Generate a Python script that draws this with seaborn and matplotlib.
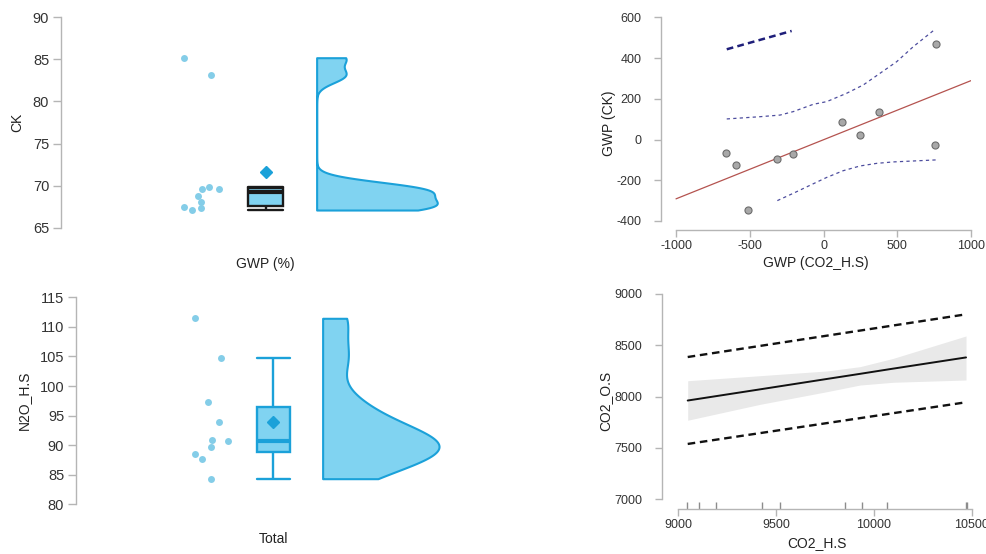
import numpy as np
import matplotlib
matplotlib.use("Agg")
import matplotlib.pyplot as plt
import matplotlib.transforms as mtransforms
import seaborn as sns

# ---------------- data ----------------
ck_values = [85.2, 83.1, 68.8, 69.8, 69.6, 69.6, 67.3, 67.5, 67.1, 68.0]
ck_ticks = [65, 70, 75, 80, 85, 90]
n2o_values = [111.45, 104.7, 97.25, 93.86, 90.7, 90.87, 89.75, 88.45, 87.66, 84.33]
n2o_ticks = [80, 85, 90, 95, 100, 105, 110, 115]

gwp_co2_hs = [-658.7, -595.5, -514.0, -313.0, -204.5, 127.7, 247.5, 374.0, 753.8, 762.8]
gwp_ck = [-64.5, -126.7, -344.4, -95.6, -71.0, 87.7, 22.2, 135.2, -26.9, 467.4]
upper_band_x = [-656, -430, -295, -205, -69, 22, 157, 270, 383, 496, 609, 756]
upper_band_y = [101, 112, 120, 137, 173, 186, 227, 268, 325, 382, 456, 541]
lower_band_x = [-313, -205, -92, 22, 134, 247, 361, 473, 767]
lower_band_y = [-300, -264, -225, -186, -153, -130, -117, -110, -100]
navy_x = [-656, -216]
navy_y = [443, 533]
gwp_xticks = [-1000, -500, 0, 500, 1000]
gwp_yticks = [-400, -200, 0, 200, 400, 600]

co2_hs_rug = [9046, 9107, 9193, 9426, 9520, 9851, 9939, 10069, 10471, 10478]
band_x = [9048, 9418, 9759, 9929, 10099, 10471]
fit_y = [7962, 8071, 8172, 8222, 8273, 8382]
ci_upper = [8155, 8204, 8250, 8292, 8373, 8591]
ci_lower = [7770, 7925, 8048, 8113, 8140, 8162]
pi_x = [9048, 10471]
pi_upper = [8386, 8802]
pi_lower = [7539, 7945]
co2_xticks = [9000, 9500, 10000, 10500]
co2_yticks = [7000, 7500, 8000, 8500, 9000]

# ---------------- style ----------------
sns.set_style("white")
plt.rcParams["font.family"] = ["Liberation Sans", "DejaVu Sans"]
plt.rcParams["axes.unicode_minus"] = False

W, H = 987, 554
fig = plt.figure(figsize=(W / 100, H / 100), dpi=100)


def rect(l, t, r, b):
    return [l / W, 1 - b / H, (r - l) / W, (b - t) / H]


SPINE = "#b5b5b5"
TXT = "#333333"
LAB = "#222222"
BLUE_FILL = "#80d3f1"
BLUE_EDGE = "#1ba1d9"
RAIN = "#84cde8"


def raincloud(ax, values, ticks, ylabel, xlabel, box_edge, ylab_x, xlab_y):
    vals = np.asarray(values, float)
    sns.boxplot(y=vals, ax=ax, width=0.167, showfliers=False, showmeans=True,
                color=BLUE_FILL, saturation=1, linecolor=box_edge, linewidth=1.7,
                medianprops=dict(color=box_edge, linewidth=3.0),
                meanprops=dict(marker="D", markerfacecolor=BLUE_EDGE,
                               markeredgecolor=BLUE_EDGE, markersize=6),
                capwidths=0.167)
    ax.set_xlim(-1, 1)
    ax.set_ylim(ticks[0], ticks[-1])
    blend = mtransforms.blended_transform_factory(ax.transData, ax.transAxes)

    # rain
    rax = ax.inset_axes([-0.43, 0, 0.225, 1], transform=blend)
    np.random.seed(7)
    sns.stripplot(y=vals, ax=rax, jitter=0.42, color=RAIN, size=5, linewidth=0)
    rax.set_xlim(-0.5, 0.5)
    rax.set_ylim(ticks[0], ticks[-1])
    rax.set_xlabel("")
    rax.set_ylabel("")
    rax.axis("off")

    # cloud (half violin)
    vax = ax.inset_axes([0.25, 0, 0.59, 1], transform=blend)
    sd = vals.std(ddof=1)
    q75, q25 = np.percentile(vals, [75, 25])
    bw = 0.9 * min(sd, (q75 - q25) / 1.34) * len(vals) ** -0.2
    sns.kdeplot(y=vals, ax=vax, fill=True, cut=0, bw_method=bw / sd,
                color=BLUE_EDGE, alpha=1, linewidth=1.5)
    poly = vax.collections[0]
    poly.set_facecolor(BLUE_FILL)
    poly.set_edgecolor(BLUE_EDGE)
    poly.set_clip_on(False)
    xmax = poly.get_paths()[0].vertices[:, 0].max()
    vax.set_xlim(0, xmax)
    vax.set_ylim(ticks[0], ticks[-1])
    vax.set_xlabel("")
    vax.set_ylabel("")
    vax.axis("off")

    ax.set_yticks(ticks)
    ax.set_xticks([])
    for s in ["top", "right", "bottom"]:
        ax.spines[s].set_visible(False)
    ax.spines["left"].set_color(SPINE)
    ax.spines["left"].set_linewidth(1)
    ax.tick_params(axis="y", left=True, colors=SPINE, labelcolor=TXT,
                   length=6, width=1, labelsize=10.5, pad=2.5)
    ax.set_ylabel(ylabel, fontsize=10, color=LAB)
    ax.set_xlabel(xlabel, fontsize=10, color=LAB)
    ax.yaxis.set_label_coords(ylab_x, 0.5)
    ax.xaxis.set_label_coords(0.5, xlab_y)


ax1 = fig.add_axes(rect(61, 17.3, 470, 227.7))
raincloud(ax1, ck_values, ck_ticks, "CK", "GWP (%)", "#1a1a1a", -0.09, -0.138)

ax2 = fig.add_axes(rect(76, 297.3, 470.6, 504.3))
raincloud(ax2, n2o_values, n2o_ticks, "N2O_H.S", "Total", BLUE_EDGE, -0.115, -0.135)


def style_right(ax, xb, yb, xlabel, ylabel, ylab_x, xlab_y):
    for s in ["top", "right"]:
        ax.spines[s].set_visible(False)
    for s in ["left", "bottom"]:
        ax.spines[s].set_color(SPINE)
        ax.spines[s].set_linewidth(1)
    ax.spines["bottom"].set_bounds(*xb)
    ax.spines["left"].set_bounds(*yb)
    ax.tick_params(axis="both", bottom=True, left=True, colors=SPINE,
                   labelcolor=TXT, length=5, width=1, labelsize=9)
    ax.tick_params(axis="y", pad=9)
    ax.tick_params(axis="x", pad=2.5)
    ax.set_xlabel(xlabel, fontsize=10, color=LAB)
    ax.set_ylabel(ylabel, fontsize=10, color=LAB)
    ax.yaxis.set_label_coords(ylab_x, 0.5)
    ax.xaxis.set_label_coords(0.5, xlab_y)


# ---------------- top right: scatter + regression ----------------
ax3 = fig.add_axes(rect(661, 17.3, 971, 230))
ax3.set_xlim(gwp_xticks[0], gwp_xticks[-1])
sns.regplot(x=gwp_co2_hs, y=gwp_ck, ax=ax3, ci=None, truncate=False,
            scatter_kws=dict(s=26, color="#a8a8a8", edgecolor="#6c6c6c",
                             linewidths=0.8, alpha=1, zorder=3),
            line_kws=dict(color="#b4534f", lw=0.9, zorder=2))
sns.lineplot(x=upper_band_x, y=upper_band_y, ax=ax3, color="#4d4d9e", lw=0.9,
             linestyle=(0, (2.6, 2.6)))
sns.lineplot(x=lower_band_x, y=lower_band_y, ax=ax3, color="#4d4d9e", lw=0.9,
             linestyle=(0, (2.6, 2.6)))
sns.lineplot(x=navy_x, y=navy_y, ax=ax3, color="#1f1f7a", lw=1.8,
             linestyle=(0, (2.7, 1.7)))
ax3.set_xlim(-1101.7, 1000)
ax3.set_ylim(-444.2, 600)
ax3.set_xticks(gwp_xticks)
ax3.set_yticks(gwp_yticks)
style_right(ax3, (gwp_xticks[0], gwp_xticks[-1]), (gwp_yticks[0], gwp_yticks[-1]),
            "GWP (CO2_H.S)", "GWP (CK)", -0.145, -0.122)

# ---------------- bottom right: fit, CI band, prediction lines, rug ----------------
ax4 = fig.add_axes(rect(661.7, 294, 971.7, 508.7))
ax4.fill_between(band_x, ci_lower, ci_upper, color="#e9e9e9", lw=0, zorder=1)
sns.lineplot(x=band_x, y=fit_y, ax=ax4, color="#111111", lw=1.4, zorder=3)
sns.lineplot(x=pi_x, y=pi_upper, ax=ax4, color="#111111", lw=1.7,
             linestyle=(0, (3.2, 2.0)))
sns.lineplot(x=pi_x, y=pi_lower, ax=ax4, color="#111111", lw=1.7,
             linestyle=(0, (3.2, 2.0)))
sns.rugplot(x=co2_hs_rug, ax=ax4, height=0.03, color="#8c8c8c", lw=1)
ax4.set_xlim(8915, 10500)
ax4.set_ylim(6908, 9000)
ax4.set_xticks(co2_xticks)
ax4.set_yticks(co2_yticks)
style_right(ax4, (co2_xticks[0], co2_xticks[-1]), (co2_yticks[0], co2_yticks[-1]),
            "CO2_H.S", "CO2_O.S", -0.158, -0.128)

fig.savefig("out.png", dpi=100)
